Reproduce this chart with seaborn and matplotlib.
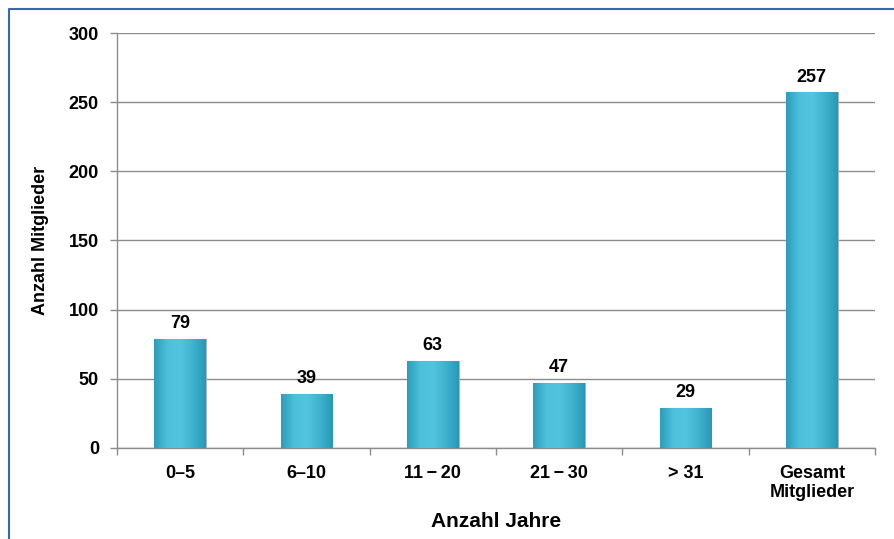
import matplotlib
matplotlib.use("Agg")
import matplotlib.pyplot as plt
import seaborn as sns
import pandas as pd
import numpy as np
from matplotlib.lines import Line2D
from matplotlib.colors import LinearSegmentedColormap

categories = ["0\u20135", "6\u201310", "11\u2009\u2212\u200920", "21\u2009\u2212\u200930", "> 31", "Gesamt\nMitglieder"]
values = [79, 39, 63, 47, 29, 257]
yticks = [0, 50, 100, 150, 200, 250, 300]

sns.set_theme(style="white")
plt.rcParams['font.family'] = ['Liberation Sans', 'DejaVu Sans']
plt.rcParams['text.color'] = 'black'
plt.rcParams['axes.labelcolor'] = 'black'

df = pd.DataFrame({"cat": categories, "val": values})

fig = plt.figure(figsize=(8.94, 5.39), dpi=100)
ax = fig.add_axes([117/894, 1-448/539, 758/894, 415/539])

sns.barplot(data=df, x="cat", y="val", ax=ax, color="#3DB4D2", width=0.41,
            edgecolor="#A9B4BC", linewidth=0.8, saturation=1, zorder=3)

ax.set_ylim(0, 300)
ax.set_xlim(-0.5, len(categories) - 0.5)

# horizontal gradient fill clipped to each bar
cmap = LinearSegmentedColormap.from_list("bar", ["#2C9DBA", "#4CC0DC", "#52C4DF", "#3FB2CF", "#2A98B5"])
grad = np.linspace(0, 1, 64).reshape(1, -1)
for p in ax.patches:
    x0, y0 = p.get_x(), p.get_y()
    w, h = p.get_width(), p.get_height()
    im = ax.imshow(grad, cmap=cmap, extent=[x0, x0 + w, y0, y0 + h],
                   aspect="auto", zorder=3.5, interpolation="bilinear")
    im.set_clip_path(p)
ax.set_xlim(-0.5, len(categories) - 0.5)
ax.set_ylim(0, 300)

ax.set_yticks(yticks)
ax.yaxis.grid(True, color="#8C8C8C", linewidth=1, zorder=0)
ax.set_axisbelow(True)

for s in ["top", "right"]:
    ax.spines[s].set_visible(False)
for s in ["left", "bottom"]:
    ax.spines[s].set_color("#8C8C8C")
    ax.spines[s].set_linewidth(1)

ax.tick_params(axis="y", which="major", length=5, width=1, color="#8C8C8C",
               direction="out", left=True, labelsize=13, pad=8, labelcolor="black")
ax.tick_params(axis="x", which="major", length=0, labelsize=13, pad=12, labelcolor="black")
ax.set_xticks([i - 0.5 for i in range(len(categories) + 1)], minor=True)
ax.tick_params(axis="x", which="minor", length=5, width=1, color="#8C8C8C",
               direction="out", bottom=True)
for lab in ax.get_xticklabels() + ax.get_yticklabels():
    lab.set_fontweight("bold")

ax.set_xlabel("Anzahl Jahre", fontsize=15, fontweight="bold", labelpad=8)
ax.set_ylabel("Anzahl Mitglieder", fontsize=13, fontweight="bold", labelpad=14)

for i, v in enumerate(values):
    ax.annotate(str(v), (i, v), xytext=(0, 5), textcoords="offset points",
                ha="center", va="bottom", fontsize=13, fontweight="bold", zorder=5)

fig.add_artist(Line2D([8.5/894, 8.5/894, 1.0], [0.0, 1-8.5/539, 1-8.5/539],
                      transform=fig.transFigure, color="#3A68A8", linewidth=1.5))

fig.savefig("out.png", dpi=100)
